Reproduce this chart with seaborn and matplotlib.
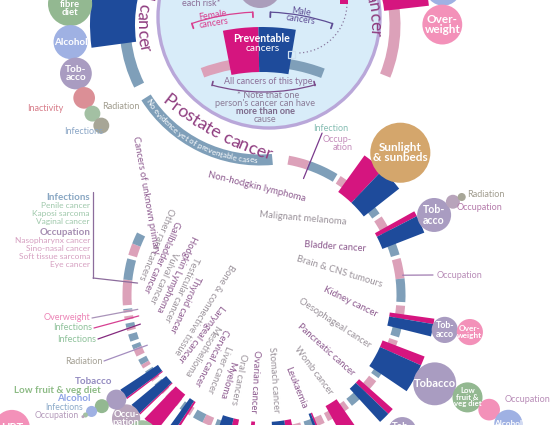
import numpy as np
import pandas as pd
import matplotlib
matplotlib.use("Agg")
import matplotlib.pyplot as plt
from matplotlib.patches import Wedge, Circle, Arc, Rectangle
from matplotlib.font_manager import FontProperties
import seaborn as sns

# new cases a year in thousands: ring = all cases, block = preventable cases
loop_names = ["Breast cancer", "Lung cancer", "Bowel cancer", "Prostate cancer"]
loop_female = [47.8, 16.6, 19.3, 0.0]
loop_male = [0.3, 20.2, 23.3, 37.0]
loop_prev_female = [14.5, 14.0, 9.0, 0.0]
loop_prev_male = [0.0, 17.5, 11.5, 0.0]

spiral_names = [
    "Non-hodgkin lymphoma", "Malignant melanoma", "Bladder cancer",
    "Brain & CNS tumours", "Kidney cancer", "Oesophageal cancer",
    "Pancreatic cancer", "Womb cancer", "Leukaemia", "Stomach cancer",
    "Ovarian cancer", "Oral cancers", "Myeloma", "Liver cancer",
    "Cervical cancer", "Mesothelioma", "Laryngeal cancer",
    "Bone & connective tissue", "Thyroid cancer", "Testicular cancer",
    "Hodgkin Lymphoma", "Vulval cancer", "Gallbladder cancer",
    "Other rare cancers", "Cancers of unknown primary",
]
spiral_female = [5.1, 6.6, 3.0, 5.0, 2.8, 3.4, 4.2, 6.0, 2.0, 3.6, 3.8, 2.2, 2.2,
                 1.0, 3.6, 0.4, 0.5, 1.0, 1.9, 0.0, 0.8, 0.9, 0.6, 6.3, 2.9]
spiral_male = [7.5, 6.55, 7.2, 5.8, 5.0, 6.8, 4.2, 0.0, 2.8, 6.0, 0.0, 4.4, 2.6,
               2.0, 0.0, 2.6, 2.5, 1.4, 1.1, 1.8, 1.0, 0.0, 0.3, 5.2, 2.9]
spiral_prev_female = [0.0, 4.6, 1.1, 0.0, 1.1, 1.9, 1.3, 3.5, 0.4, 1.8, 1.0, 1.5, 0.0,
                      0.5, 3.4, 0.3, 0.3, 0.0, 0.0, 0.0, 0.0, 0.0, 0.0, 0.0, 0.0]
spiral_prev_male = [0.0, 5.0, 3.6, 0.0, 2.5, 5.9, 2.3, 0.0, 0.6, 3.4, 0.0, 3.0, 0.0,
                    1.4, 0.0, 2.3, 2.0, 0.0, 0.0, 0.0, 0.0, 0.0, 0.0, 0.0, 0.0]

# cases caused by each risk (thousands) -> bubble area
risk_cancer = (["Breast cancer"] * 2 + ["Bowel cancer"] * 6 + ["Malignant melanoma"]
               + ["Bladder cancer"] * 3 + ["Kidney cancer"] * 2 + ["Oesophageal cancer"] * 4
               + ["Pancreatic cancer", "Mesothelioma", "Cervical cancer"] + ["Laryngeal cancer"] * 5)
risk_factor = ["Alcohol", "Overweight",
               "Low fibre diet", "Alcohol", "Tobacco", "Inactivity", "Infections", "Radiation",
               "Sunlight & sunbeds",
               "Tobacco", "Occupation", "Radiation",
               "Tobacco", "Overweight",
               "Tobacco", "Low fruit & veg diet", "Overweight", "Alcohol",
               "Tobacco", "Occupation", "Infections",
               "Tobacco", "Low fruit & veg diet", "Alcohol", "Infections", "Occupation"]
risk_cases = [3.6, 4.4,
              5.4, 3.2, 2.8, 1.3, 0.7, 0.7,
              10.0,
              3.2, 0.54, 0.18,
              1.9, 1.9,
              5.1, 2.5, 1.3, 2.2,
              2.2, 2.2, 2.2,
              1.1, 0.54, 0.34, 0.07, 0.025]
hrt_cases = 3.6

# ---- style / layout ----
FONT = ["Lato", "DejaVu Sans"]
PINK, BLUE = "#d5157f", "#1e4b9b"
RING_F, RING_M = "#dca1b9", "#7f9fb9"
LAB_PURPLE, LAB_GREY = "#8d5b8f", "#9b939b"
risk_colours = {"Tobacco": "#a99cc1", "Alcohol": "#9fb1e3", "Low fibre diet": "#93b891",
                "Low fruit & veg diet": "#93b891", "Overweight": "#f391b9",
                "Sunlight & sunbeds": "#d4a66c", "Inactivity": "#db8f96",
                "Infections": "#a3c0a3", "Radiation": "#a7a697", "Occupation": "#b8a4bb",
                "HRT": "#f391b9"}
short = {"Tobacco": "Tob-\nacco", "Overweight": "Over-\nweight", "Occupation": "Occu-\npation",
         "Infections": "Infec-\ntions", "Low fibre diet": "Low\nfibre\ndiet",
         "Low fruit & veg diet": "Low\nfruit &\nveg diet", "Sunlight & sunbeds": "Sunlight\n& sunbeds",
         "Alcohol": "Alcohol", "HRT": "HRT"}

S = 4.0                       # px of arc per thousand cases
C1, R1, T1 = (260.0, 25.0), 135.0, 11.0
C2, R2, T2 = (264.0, 295.0), 137.0, 9.0
B_IN, B_OUT = -10.0, 35.0
BUB = 9.5                     # bubble radius = BUB * sqrt(thousands)

chain_turn = {"Breast cancer": 103, "Bowel cancer": -97, "Bladder cancer": -10,
              "Kidney cancer": -6, "Oesophageal cancer": -5, "Laryngeal cancer": 11}
chain_bend = {"Bowel cancer": -9, "Bladder cancer": 7, "Oesophageal cancer": 7, "Laryngeal cancer": -3}
chain_overlap = {"Malignant melanoma": 5, "Pancreatic cancer": -8}
chain_shift = {"Breast cancer": 7.3, "Bowel cancer": -3.4}

# where each spiral label ends (px) and its angle
label_x = [305, 346, 366, 382, 377, 370, 353, 331, 304, 276, 253, 234, 222, 209,
           196, 186, 180, 176, 172, 166, 159, 152, 146, 141, 156]
label_y = [199, 222, 249, 285, 315, 346, 374, 394, 408, 413, 413, 405, 399, 393,
           385, 376, 361, 354, 332, 321, 311, 303, 292, 279, 254]
label_rot = [-14, -5, -4, -17, -26, -33, -42, -53, -68, -86, -93, -101, -106, -112,
             -118, -122, -128, -122, -115, -115, -115, -115, -114, -113, -80]

sns.set_theme(style="white")
plt.rcParams["font.family"] = FONT

fig = plt.figure(figsize=(5.5, 4.25), dpi=100)
ax = fig.add_axes([0, 0, 1, 1])
ax.set_xlim(0, 550)
ax.set_ylim(425, 0)
ax.axis("off")
renderer = fig.canvas.get_renderer()


def pol(c, r, phi):
    t = np.radians(phi)
    return c[0] + r * np.sin(t), c[1] - r * np.cos(t)


def sector(c, r_in, r_out, p0, p1, color, z):
    lo, hi = sorted((p0, p1))
    if hi - lo <= 0:
        return
    ax.add_patch(Wedge(c, r_out, lo - 90, hi - 90, width=r_out - r_in,
                       facecolor=color, edgecolor="none", linewidth=0, zorder=z))


def lay_out(names, fem, mal, pfem, pmal, c, R, T, phi0, sign, gap):
    rows = []
    phi = phi0
    k = np.degrees(S / R)
    for n, f, m, a, b in zip(names, fem, mal, pfem, pmal):
        df, dm = f * k, m * k
        sector(c, R - T / 2, R + T / 2, phi, phi + sign * df, RING_F, 2)
        sector(c, R - T / 2, R + T / 2, phi + sign * df, phi + sign * (df + dm), RING_M, 2)
        mid = phi + sign * (df + dm) / 2
        w = (a + b) * k
        b0 = mid - sign * w / 2
        sector(c, R + B_IN, R + B_OUT, b0, b0 + sign * a * k, PINK, 3)
        sector(c, R + B_IN, R + B_OUT, b0 + sign * a * k, b0 + sign * w, BLUE, 3)
        rows.append(dict(name=n, cx=c[0], cy=c[1], R=R, mid=mid, split=phi + sign * df))
        phi += sign * (df + dm + gap)
    return pd.DataFrame(rows)


def text_w(t, size, weight):
    prop = FontProperties(family=FONT, size=size, weight=weight)
    return renderer.get_text_width_height_descent(t, prop, ismath=False)[0]


def curved_text(s, c, r, phi, sign, size, color, weight="normal", anchor="start"):
    space = text_w("n n", size, weight) - text_w("nn", size, weight)
    w = [space if ch == " " else text_w(ch, size, weight) for ch in s]
    rb = r + (0.35 if sign < 0 else -0.35) * size * 100 / 72
    span = np.degrees(sum(w) / rb)
    start = phi if anchor == "start" else phi - sign * span
    pos = 0.0
    for ch, cw in zip(s, w):
        p = start + sign * np.degrees((pos + cw / 2) / rb)
        x, y = pol(c, rb, p)
        rot = -p if sign > 0 else 180 - p
        ax.text(x, y, ch, rotation=rot, rotation_mode="anchor", ha="center", va="baseline",
                fontsize=size, color=color, fontweight=weight, zorder=8)
        pos += cw


# ---- central key circle ----
ax.add_patch(Circle((269, 17), 111, facecolor="#d8ecf9", edgecolor="#b9a7d9", linewidth=2.4, zorder=1))
ax.add_patch(Circle((260, -14), 22, facecolor="#aa9dbb", edgecolor="none", zorder=1.5))
ax.text(201, 3, "each risk*", ha="center", va="center", fontsize=6.5, color="#8b6f98")
C3, R3 = (262.0, 232.0), 170.0
sector(C3, R3 - 5, R3 + 5, -20.5, -1, RING_F, 1.6)
sector(C3, R3 - 5, R3 + 5, -1, 21, RING_M, 1.6)
sector(C3, R3 + B_IN, R3 + B_OUT, -11, -1, PINK, 1.7)
sector(C3, R3 + B_IN, R3 + B_OUT, -1, 9.5, BLUE, 1.7)
ax.text(262, 38, "Preventable", ha="center", va="center", color="white", fontsize=7.6, fontweight="bold", zorder=2)
ax.text(263, 48, "cancers", ha="center", va="center", color="white", fontsize=7.4, zorder=2)
ax.add_patch(Rectangle((288, 51), 7, 7, facecolor="none", edgecolor="#cfe0f0", linewidth=0.9, zorder=2))
ax.add_patch(Arc((297, 3), 100, 100, theta1=0, theta2=90, color="#8a7aa0", linewidth=0.9,
                 linestyle=(0, (1, 2)), zorder=2))
ax.add_patch(Rectangle((340, -4), 8, 8, facecolor=PINK, edgecolor="none", zorder=2))
for p0, p1, col in [(-18.6, -2.4, "#d83f8f"), (2.2, 18.7, "#5d4c94")]:
    ax.add_patch(Arc(C3, 2 * 220, 2 * 220, theta1=p0 - 90, theta2=p1 - 90, color=col, linewidth=0.9, zorder=2))
    for p in (p0, p1):
        ax.plot(*zip(pol(C3, 220, p), pol(C3, 215, p)), color=col, linewidth=1.3, zorder=2)
ax.text(213, 19, "Female\ncancers", ha="center", va="center", rotation=9, fontsize=6.4,
        color="#d93d8e", linespacing=0.85)
ax.text(301, 16, "Male\ncancers", ha="center", va="center", rotation=-8, fontsize=6.4,
        color="#5d4c94", linespacing=0.85)
ax.text(268, 81, "All cancers of this type", ha="center", va="center", fontsize=6.4, color="#8b6f98")
ax.add_patch(Arc((263, -100), 384, 384, theta1=74, theta2=105.4, color="#7a4a8a", linewidth=0.9))
for x in (212, 315):
    ax.plot([x, x + (1 if x < 263 else -1)], [85.5, 81.5], color="#7a4a8a", linewidth=1.2)
ax.text(268, 95, "* Note that one", ha="center", va="center", fontsize=6.6, color="#8b7c97")
ax.text(265, 103, "person's cancer can have", ha="center", va="center", fontsize=6.6, color="#8b7c97")
ax.text(265, 111, "more than one", ha="center", va="center", fontsize=6.6, color="#7d6a8b", fontweight="bold")
ax.text(265, 119, "cause", ha="center", va="center", fontsize=6.6, color="#8b7c97")

# ---- rings and blocks ----
loop_geo = lay_out(loop_names, loop_female, loop_male, loop_prev_female, loop_prev_male,
                   C1, R1, T1, 112.0, -1, 6.0)
spiral_geo = lay_out(spiral_names, spiral_female, spiral_male, spiral_prev_female,
                     spiral_prev_male, C2, R2, T2, 10.2, 1, 1.5)
geo = pd.concat([loop_geo, spiral_geo]).set_index("name")

# ---- risk bubbles ----
risks = pd.DataFrame({"cancer": risk_cancer, "risk": risk_factor, "cases": risk_cases})
risks["r"] = BUB * np.sqrt(risks["cases"])
xs, ys = [], []
for cancer in risks["cancer"].unique():
    g = geo.loc[cancer]
    radii = risks.loc[risks["cancer"] == cancer, "r"].to_numpy()
    phi = g["mid"] + chain_shift.get(cancer, 0)
    x, y = pol((g["cx"], g["cy"]), g["R"] + B_OUT + radii[0] - chain_overlap.get(cancer, 1), phi)
    beta = phi - 90 + chain_turn.get(cancer, 0)
    for i, r in enumerate(radii):
        if i > 0:
            step = radii[i - 1] + r - 1
            x += step * np.cos(np.radians(beta))
            y += step * np.sin(np.radians(beta))
            beta += chain_bend.get(cancer, 0)
        xs.append(x)
        ys.append(y)
risks["x"], risks["y"] = xs, ys
hx, hy = pol(C2, 285, 242.2)
risks = pd.concat([risks, pd.DataFrame({"cancer": ["Other"], "risk": ["HRT"], "cases": [hrt_cases],
                                        "r": [BUB * np.sqrt(hrt_cases)], "x": [hx], "y": [hy]})],
                  ignore_index=True)
risks["key"] = [f"b{i}" for i in range(len(risks))]
sns.scatterplot(data=risks, x="x", y="y", hue="key", size="key", ax=ax,
                palette={k: risk_colours[r] for k, r in zip(risks["key"], risks["risk"])},
                sizes={k: (1.44 * r) ** 2 for k, r in zip(risks["key"], risks["r"])},
                linewidth=0, legend=False, zorder=5)
ax.set_xlim(0, 550)
ax.set_ylim(425, 0)
ax.axis("off")
for _, b in risks.iterrows():
    if b["r"] < 12:
        continue
    txt = short[b["risk"]]
    if b["risk"] == "Tobacco" and b["r"] > 20:
        txt = "Tobacco"
    fs = float(np.clip(b["r"] * 0.3 + 2.5, 6, 8.5))
    if txt.count("\n") > 1:
        fs *= 0.8
    while fs > 5 and max(text_w(t, fs, "bold") for t in txt.split("\n")) > 2.0 * b["r"]:
        fs -= 0.25
    ax.text(b["x"], b["y"], txt, ha="center", va="center", color="white", fontsize=fs,
            fontweight="bold", linespacing=0.9, zorder=6)

# ---- big loop labels ----
curved_text("Bowel cancer", C1, 117, 256.7, -1, 12.5, "#8f3d80", anchor="end")
curved_text("Breast cancer", C1, 116, 96, 1, 12.5, "#8f3d80", anchor="end")
curved_text("Prostate cancer", (371, -157), 327, 219, -1, 13, "#8f3d80")
curved_text("No evidence yet of preventable cases", C1, R1, 236.5, -1, 5.8, "white")

# ---- spiral labels ----
for i, name in enumerate(spiral_geo["name"]):
    ax.text(label_x[i], label_y[i], name, rotation=label_rot[i], rotation_mode="anchor",
            ha="right", va="center", fontsize=6.8,
            color=LAB_PURPLE if i % 2 == 0 else LAB_GREY, zorder=7)

# ---- leaders and risk notes ----
nhl = geo.loc["Non-hodgkin lymphoma"]
ax.plot(*zip(pol(C2, R2 - 14, nhl["split"]), pol(C2, R2 + 35, nhl["split"] + 1)), color="#7a3a8c", linewidth=0.9, zorder=4)
br = geo.loc["Brain & CNS tumours"]
ax.plot(*zip(pol(C2, R2 + 3, br["mid"] - 2), (433, 275)), color="#a07bb0", linewidth=0.9, zorder=4)


def note(s, x, y, color, ha="left", size=6.5, weight="normal"):
    ax.text(x, y, s, ha=ha, va="center", fontsize=size, color=color, fontweight=weight, zorder=7)


note("Inactivity", 63, 108, "#d77b88", "right")
note("Infections", 84, 131, "#8ba6c6", "center")
note("Radiation", 102, 106, "#a19d8f")
note("Infection", 313, 128, "#86bdb3")
note("Occup-", 323, 140, "#c48dbb")
note("ation", 333, 148, "#c48dbb")
note("Radiation", 467, 194, "#a19d8f")
note("Occupation", 457, 207, "#b57bab")
note("Occupation", 437, 275, "#b88cb7")
note("Occupation", 505, 400, "#b88cb7")

for s, x0, y, col, lcol, cancer in [("Overweight", 90, 318, "#ec84b6", "#a993b9", "Gallbladder cancer"),
                                     ("Infections", 92, 328, "#8fc29b", "#d63f91", "Vulval cancer"),
                                     ("Infections", 96, 339, "#8fc29b", "#842a7e", "Hodgkin Lymphoma"),
                                     ("Radiation", 102, 361, "#a5a195", "#a48dbf", "Thyroid cancer")]:
    note(s, x0, y, col, "right")
    ax.plot(*zip((x0 + 2, y), pol(C2, 127, geo.loc[cancer]["mid"])), color=lcol, linewidth=0.9, zorder=4)

note("Infections", 90, 197, "#89a7c3", "right", 7, "bold")
for s, y in [("Penile cancer", 205.5), ("Kaposi sarcoma", 213.5), ("Vaginal cancer", 221.5)]:
    note(s, 90, y, "#9fc8ab", "right", 6)
note("Occupation", 90, 232, "#a68fb3", "right", 7, "bold")
for s, y in [("Nasopharynx cancer", 240.5), ("Sino-nasal cancer", 248.5),
             ("Soft tissue sarcoma", 256.5), ("Eye cancer", 265)]:
    note(s, 90, y, "#d6a0c1", "right", 6)
ax.plot([93, 93], [192, 278], color="#8c6c9c", linewidth=0.9)
ax.plot(*zip((93, 278), pol(C2, 127, geo.loc["Other rare cancers"]["mid"])), color="#8c6c9c", linewidth=0.9)

note("Tobacco", 112, 382, "#938bc0", "right", 7, "bold")
note("Low fruit & veg diet", 101, 390.5, "#8dbb85", "right", 7, "bold")
note("Alcohol", 91, 398.5, "#8ea3e6", "right", 7, "bold")
note("Infections", 83, 407.5, "#8caac9", "right", 6.2)
note("Occupation", 79, 415, "#b59bbb", "right", 6.2)

fig.savefig("out.png", dpi=100)
